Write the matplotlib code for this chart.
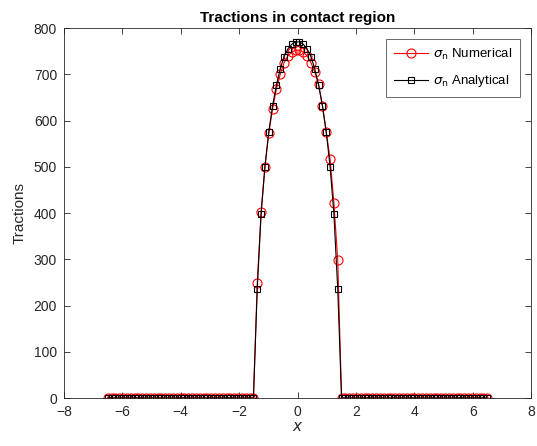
import matplotlib
matplotlib.use("Agg")
import matplotlib.pyplot as plt

plt.rcParams['font.family'] = ['Liberation Sans', 'DejaVu Sans']

x = [-6.500, -6.369, -6.237, -6.106, -5.975, -5.843, -5.712, -5.581, -5.449, -5.318,
     -5.187, -5.056, -4.924, -4.793, -4.662, -4.530, -4.399, -4.268, -4.136, -4.005,
     -3.874, -3.742, -3.611, -3.480, -3.348, -3.217, -3.086, -2.955, -2.823, -2.692,
     -2.561, -2.429, -2.298, -2.167, -2.035, -1.904, -1.773, -1.641, -1.510, -1.379,
     -1.247, -1.116, -0.985, -0.854, -0.722, -0.591, -0.460, -0.328, -0.197, -0.066,
     0.066, 0.197, 0.328, 0.460, 0.591, 0.722, 0.854, 0.985, 1.116, 1.247,
     1.379, 1.510, 1.641, 1.773, 1.904, 2.035, 2.167, 2.298, 2.429, 2.561,
     2.692, 2.823, 2.955, 3.086, 3.217, 3.348, 3.480, 3.611, 3.742, 3.874,
     4.005, 4.136, 4.268, 4.399, 4.530, 4.662, 4.793, 4.924, 5.056, 5.187,
     5.318, 5.449, 5.581, 5.712, 5.843, 5.975, 6.106, 6.237, 6.369, 6.500]

numerical = [0, 0, 0, 0, 0, 0, 0, 0, 0, 0,
             0, 0, 0, 0, 0, 0, 0, 0, 0, 0,
             0, 0, 0, 0, 0, 0, 0, 0, 0, 0,
             0, 0, 0, 0, 0, 0, 0, 0, 0, 248,
             402, 500, 572, 625, 668, 700, 725, 740, 748, 752,
             752, 748, 740, 725, 705, 678, 632, 575, 517, 422,
             298, 0, 0, 0, 0, 0, 0, 0, 0, 0,
             0, 0, 0, 0, 0, 0, 0, 0, 0, 0,
             0, 0, 0, 0, 0, 0, 0, 0, 0, 0,
             0, 0, 0, 0, 0, 0, 0, 0, 0, 0]

analytical = [0, 0, 0, 0, 0, 0, 0, 0, 0, 0,
              0, 0, 0, 0, 0, 0, 0, 0, 0, 0,
              0, 0, 0, 0, 0, 0, 0, 0, 0, 0,
              0, 0, 0, 0, 0, 0, 0, 0, 0, 235,
              398, 500, 575, 632, 677, 712, 738, 755, 765, 770,
              770, 765, 755, 738, 712, 677, 632, 575, 500, 398,
              235, 0, 0, 0, 0, 0, 0, 0, 0, 0,
              0, 0, 0, 0, 0, 0, 0, 0, 0, 0,
              0, 0, 0, 0, 0, 0, 0, 0, 0, 0,
              0, 0, 0, 0, 0, 0, 0, 0, 0, 0]

xticks = [-8, -6, -4, -2, 0, 2, 4, 6, 8]
yticks = [0, 100, 200, 300, 400, 500, 600, 700, 800]

fig = plt.figure(figsize=(5.37, 4.46), dpi=100)
ax = fig.add_axes([64/537, 48/446, 467/537, 370/446])

ax.plot(x, numerical, color='red', lw=0.8, marker='o', ms=6.5, mfc='none',
        mec='red', mew=0.8, label=r'$\sigma_{\rm n}$ Numerical')
ax.plot(x, analytical, color='black', lw=0.8, marker='s', ms=5, mfc='none',
        mec='black', mew=0.8, label=r'$\sigma_{\rm n}$ Analytical')

ax.set_xlim(-8, 8)
ax.set_ylim(0, 800)
ax.set_xticks(xticks)
ax.set_yticks(yticks)
gray = (0.15, 0.15, 0.15)
ax.tick_params(direction='in', top=True, right=True, labelsize=10, colors=gray,
               length=4, width=0.6)
ax.tick_params(axis='x', pad=5)
ax.tick_params(axis='y', pad=5)
for s in ax.spines.values():
    s.set_color(gray)
    s.set_linewidth(0.6)

ax.set_title('Tractions in contact region', fontsize=11, fontweight='bold', pad=4)
ax.set_xlabel('$x$', fontsize=11, color=gray, labelpad=1)
ax.set_ylabel('Tractions', fontsize=11, color=gray, labelpad=5)

leg = ax.legend(loc='upper right', fontsize=9.5, frameon=True, fancybox=False,
                edgecolor=gray, borderaxespad=0.8, handlelength=2.6,
                handletextpad=0.4, labelspacing=0.9, borderpad=0.6)
leg.get_frame().set_linewidth(0.6)

fig.savefig('out.png', dpi=100)
